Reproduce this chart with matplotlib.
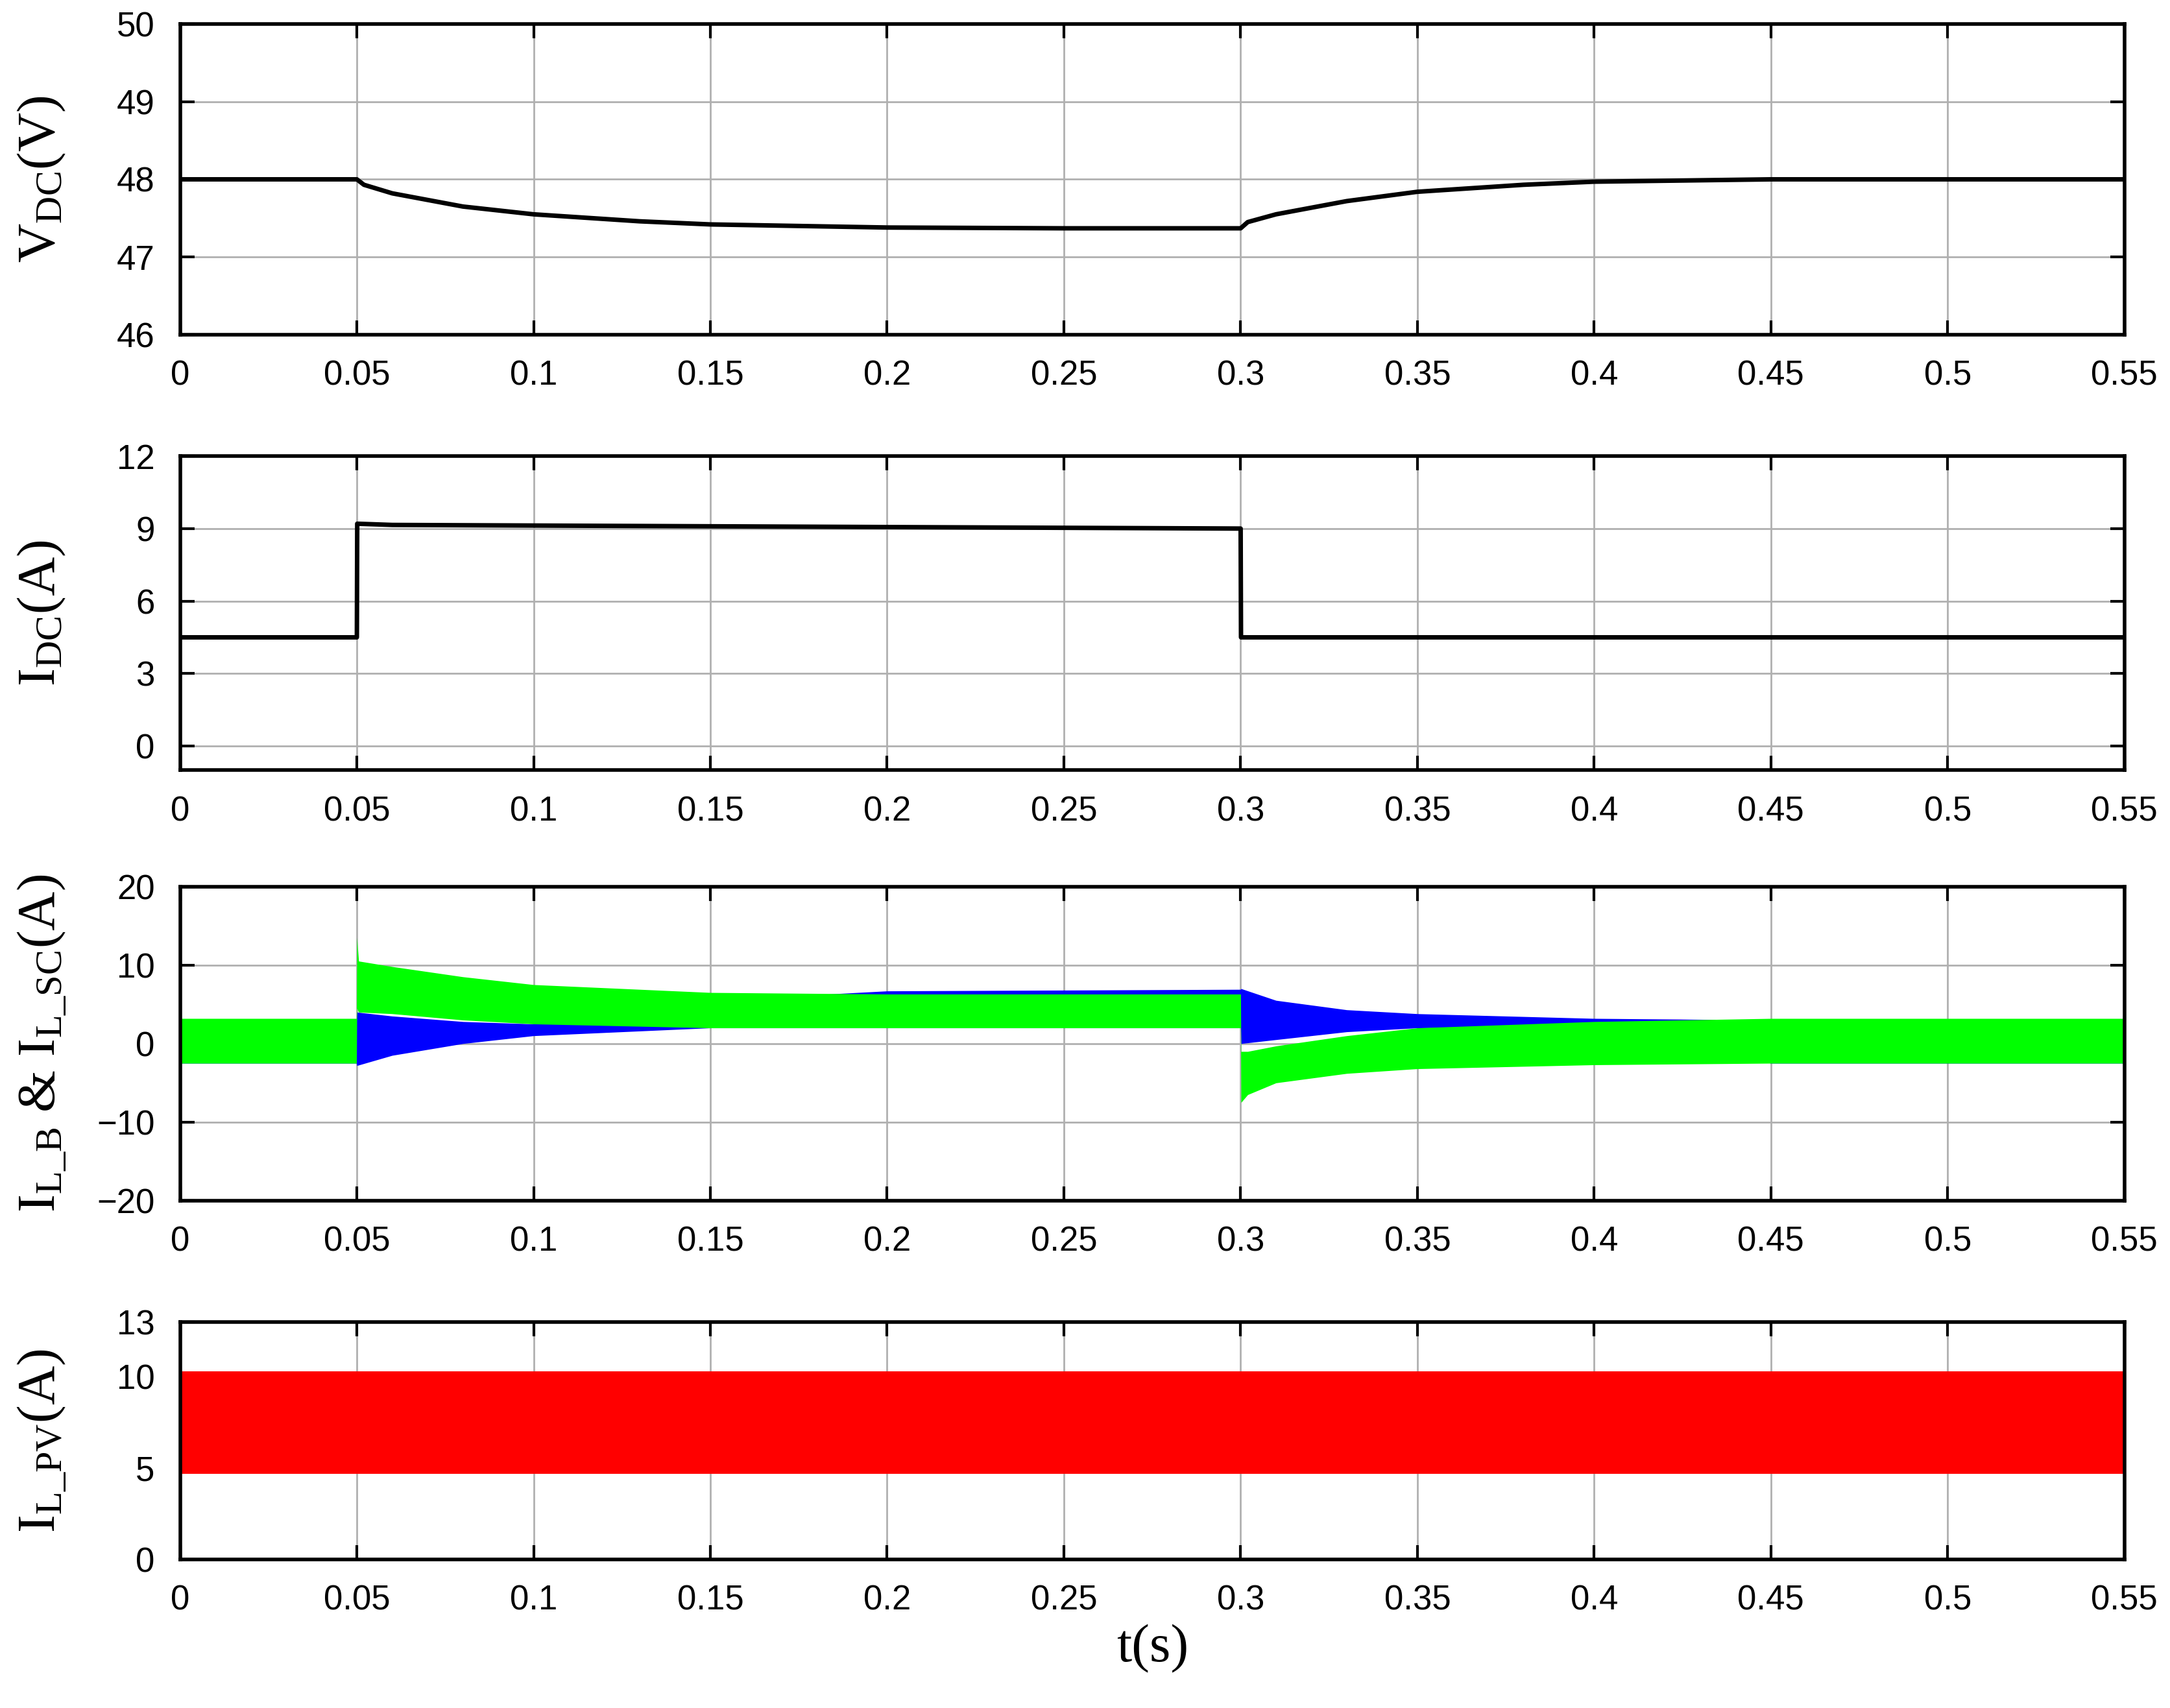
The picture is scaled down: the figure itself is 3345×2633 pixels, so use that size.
import matplotlib.pyplot as plt

plt.rcParams['mathtext.fontset'] = 'custom'
plt.rcParams['mathtext.rm'] = 'Liberation Serif'
plt.rcParams['mathtext.it'] = 'Liberation Serif'

# V_DC trace (breakpoints)
t_v = [0, 0.05, 0.052, 0.06, 0.08, 0.1, 0.13, 0.15, 0.2, 0.25, 0.3, 0.302, 0.31, 0.33, 0.35, 0.38, 0.4, 0.45, 0.55]
v_dc = [48, 48, 47.93, 47.82, 47.65, 47.55, 47.46, 47.42, 47.38, 47.37, 47.37, 47.45, 47.55, 47.72, 47.84, 47.93, 47.97, 48.0, 48.0]

# I_DC trace
t_i = [0, 0.05, 0.0501, 0.06, 0.3, 0.3001, 0.55]
i_dc = [4.5, 4.5, 9.2, 9.15, 9.0, 4.5, 4.5]

# I_L_B envelope (blue)
t_b = [0, 0.0499, 0.05, 0.06, 0.08, 0.1, 0.15, 0.2, 0.3, 0.3001, 0.31, 0.33, 0.35, 0.4, 0.45, 0.55]
b_hi = [3.0, 3.0, 4.0, 3.5, 2.8, 2.5, 5.5, 6.7, 6.9, 7.0, 5.5, 4.3, 3.8, 3.2, 3.0, 3.0]
b_lo = [-2.5, -2.5, -2.8, -1.5, 0.0, 1.0, 2.0, 2.0, 2.0, 0.0, 0.5, 1.5, 2.0, 2.2, -2.5, -2.5]

# I_L_SC envelope (green)
t_g = [0, 0.0499, 0.05, 0.0505, 0.06, 0.08, 0.1, 0.15, 0.2, 0.3, 0.3001, 0.302, 0.31, 0.33, 0.35, 0.4, 0.45, 0.55]
g_hi = [3.2, 3.2, 13.5, 10.5, 9.8, 8.5, 7.5, 6.5, 6.3, 6.3, -1.0, -1.0, -0.3, 1.0, 2.0, 2.8, 3.2, 3.2]
g_lo = [-2.5, -2.5, 4.5, 4.0, 3.8, 3.0, 2.5, 2.0, 2.0, 2.0, -7.5, -6.5, -5.0, -3.8, -3.2, -2.7, -2.5, -2.5]

# I_L_PV envelope (red)
t_pv = [0, 0.55]
pv_hi = [10.3, 10.3]
pv_lo = [4.7, 4.7]

xticks = [0, 0.05, 0.1, 0.15, 0.2, 0.25, 0.3, 0.35, 0.4, 0.45, 0.5, 0.55]
xlabels = ['0', '0.05', '0.1', '0.15', '0.2', '0.25', '0.3', '0.35', '0.4', '0.45', '0.5', '0.55']

fig = plt.figure(figsize=(16.725, 13.165), dpi=200)
L, W = 0.083, 0.896
boxes = [(0.804, 0.182), (0.549, 0.184), (0.297, 0.184), (0.087, 0.139)]
axes = [fig.add_axes([L, b, W, h]) for b, h in boxes]

ax = axes[0]
ax.plot(t_v, v_dc, color='black', lw=2.5)
ax.set_ylim(46, 50)
ax.set_yticks([46, 47, 48, 49, 50])
ax.set_ylabel('V$_{DC}$(V)')

ax = axes[1]
ax.plot(t_i, i_dc, color='black', lw=2.5)
ax.set_ylim(-1, 12)
ax.set_yticks([0, 3, 6, 9, 12])
ax.set_ylabel('I$_{DC}$(A)')

ax = axes[2]
ax.fill_between(t_b, b_lo, b_hi, color='#0000ff', lw=0)
ax.fill_between(t_g, g_lo, g_hi, color='#00ff00', lw=0)
ax.set_ylim(-20, 20)
ax.set_yticks([-20, -10, 0, 10, 20])
ax.set_ylabel('I$_{L\\_B}$ & I$_{L\\_SC}$(A)')

ax = axes[3]
ax.fill_between(t_pv, pv_lo, pv_hi, color='#ff0000', lw=0)
ax.set_ylim(0, 13)
ax.set_yticks([0, 5, 10, 13])
ax.set_ylabel('I$_{L\\_PV}$(A)')
ax.set_xlabel('t(s)', fontsize=30, family='Liberation Serif')

for ax in axes:
    ax.set_xlim(0, 0.55)
    ax.set_xticks(xticks)
    ax.set_xticklabels(xlabels)
    ax.grid(True, color='#b0b0b0', lw=1.0)
    ax.set_axisbelow(True)
    ax.tick_params(direction='in', labelsize=19, length=8, width=1.5, pad=14, top=True, right=True)
    for lbl in ax.get_xticklabels() + ax.get_yticklabels():
        lbl.set_family('Liberation Sans')
    ax.yaxis.label.set_size(30)
    ax.yaxis.label.set_family('Liberation Serif')
    for s in ax.spines.values():
        s.set_linewidth(2)
    ax.yaxis.set_label_coords(-0.058, 0.5)

fig.savefig('out.png', dpi=200)
